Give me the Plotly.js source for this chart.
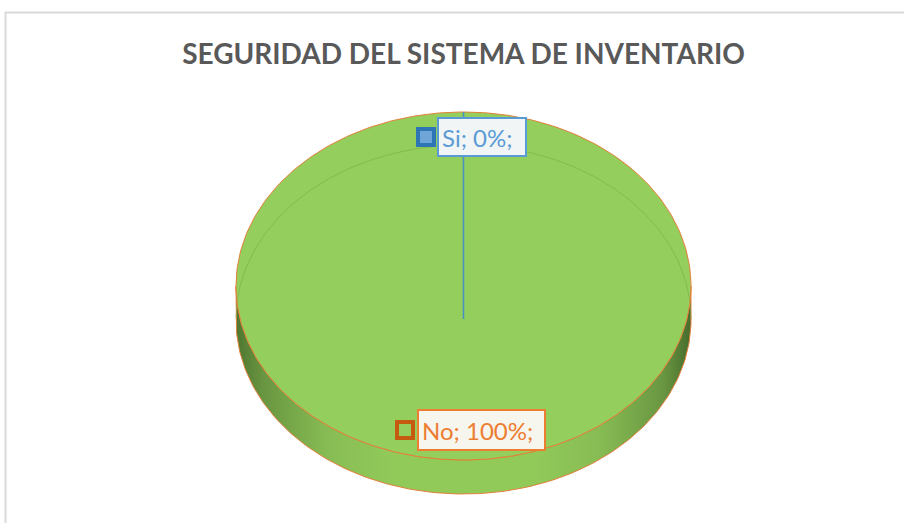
<!DOCTYPE html>
<html>
<head>
<meta charset="utf-8">
<script src="https://cdn.plot.ly/plotly-3.0.1.min.js"></script>
<style>
html,body{margin:0;padding:0;background:#fff;}
#chart{width:904px;height:523px;}
</style>
</head>
<body>
<div id="chart"></div>
<script>
// ---- data ----
const categories = ['Si', 'No'];
const values = [0, 100];
const chartTitle = 'SEGURIDAD DEL SISTEMA DE INVENTARIO';

// ---- styles ----
const faceColors = ['#4f8fcc', 'rgb(148,206,92)'];
const borderColors = ['#4a8fc6', 'rgb(226,128,58)'];
const labelTextColors = ['#5b9bd5', '#ed7d31'];
const labelBg = ['#f1f5f6', '#f6f5ee'];
const keyFill = ['#6fa6da', 'rgb(148,206,92)'];
const keyBorder = ['#2e75b6', '#c55a11'];

// ---- geometry (pixel space) ----
const cx = 463.5, cy = 286, rx = 227.5, ry = 174, depth = 34, bevel = 33;
const apex = [cx, cy + bevel];

function rim(thDeg, dy) {
  const t = thDeg * Math.PI / 180;
  return [cx + rx * Math.sin(t), cy - ry * Math.cos(t) + (dy || 0)];
}

const total = values.reduce((a, b) => a + b, 0);
const slices = [];
let cum = 0;
values.forEach((v, i) => {
  const s = cum / total * 360, e = (cum + v) / total * 360;
  cum += v;
  slices.push({ i, s, e });
});

const traces = [];

// side walls
slices.forEach(sl => {
  const a = Math.max(sl.s, 90), b = Math.min(sl.e, 270);
  if (a >= b) return;
  const xs = [], ys = [];
  for (let t = a; t <= b + 1e-9; t += 1) { const p = rim(t); xs.push(p[0]); ys.push(p[1]); }
  for (let t = b; t >= a - 1e-9; t -= 1) { const p = rim(t, depth); xs.push(p[0]); ys.push(p[1]); }
  xs.push(xs[0]); ys.push(ys[0]);
  traces.push({
    type: 'scatter', mode: 'lines', x: xs, y: ys, fill: 'toself',
    fillgradient: {
      type: 'horizontal', start: cx - rx, stop: cx + rx,
      colorscale: [[0, 'rgb(78,118,48)'], [0.06, 'rgb(105,150,65)'], [0.2, 'rgb(135,188,84)'],
                   [0.35, 'rgb(146,202,90)'], [0.65, 'rgb(146,202,90)'], [0.8, 'rgb(135,188,84)'],
                   [0.94, 'rgb(105,150,65)'], [1, 'rgb(70,108,44)']]
    },
    line: { color: borderColors[sl.i], width: 1 },
    hoverinfo: 'skip', showlegend: false
  });
});

function slicePoly(sl) {
  const xs = [apex[0]], ys = [apex[1]];
  if (sl.e - sl.s <= 0) {
    const p = rim(sl.s); xs.push(p[0]); ys.push(p[1]);
  } else {
    for (let t = sl.s; t <= sl.e + 1e-9; t += 1) { const p = rim(t); xs.push(p[0]); ys.push(p[1]); }
  }
  xs.push(apex[0]); ys.push(apex[1]);
  return { xs, ys };
}

// top faces
slices.forEach(sl => {
  if (sl.e - sl.s <= 0) return;
  const p = slicePoly(sl);
  traces.push({
    type: 'scatter', mode: 'lines', x: p.xs, y: p.ys, fill: 'toself',
    fillcolor: faceColors[sl.i], line: { width: 0, color: 'rgba(0,0,0,0)' },
    hoverinfo: 'skip', showlegend: false
  });
});

// bevel highlight line
(function () {
  const xs = [], ys = [];
  for (let t = -90; t <= 90; t += 1) { const p = rim(t, bevel); xs.push(p[0]); ys.push(p[1]); }
  traces.push({ type: 'scatter', mode: 'lines', x: xs, y: ys,
    line: { color: 'rgba(120,170,70,0.55)', width: 1 }, hoverinfo: 'skip', showlegend: false });
})();

// top rim outlines (outer edge only)
slices.slice().reverse().forEach(sl => {
  if (sl.e - sl.s <= 0) return;
  const xs = [], ys = [];
  for (let t = sl.s; t <= sl.e + 1e-9; t += 1) { const p = rim(t); xs.push(p[0]); ys.push(p[1]); }
  traces.push({ type: 'scatter', mode: 'lines', x: xs, y: ys,
    line: { color: borderColors[sl.i], width: 1 }, hoverinfo: 'skip', showlegend: false });
});

// radial outlines (zero-size slice becomes a line)
slices.slice().reverse().forEach(sl => {
  if (sl.e - sl.s > 0 && sl.e - sl.s < 360) {
    const p = slicePoly(sl);
    traces.push({ type: 'scatter', mode: 'lines', x: p.xs, y: p.ys,
      line: { color: borderColors[sl.i], width: 1 }, hoverinfo: 'skip', showlegend: false });
  } else if (sl.e - sl.s <= 0) {
    const p = slicePoly(sl);
    traces.push({ type: 'scatter', mode: 'lines', x: p.xs, y: p.ys,
      line: { color: borderColors[sl.i], width: 1.5 }, hoverinfo: 'skip', showlegend: false });
  }
});

// label placement
const labelPos = [
  { x: 481.5, y: 137, w: 80, h: 30, kx: 426, ky: 137 },
  { x: 481.5, y: 430, w: 119, h: 32, kx: 405, ky: 430 }
];

const annotations = categories.map((c, i) => ({
  x: labelPos[i].x, y: labelPos[i].y, xref: 'x', yref: 'y',
  text: c + '; ' + values[i] + '%;',
  showarrow: false, align: 'left', width: labelPos[i].w, height: labelPos[i].h,
  font: { family: 'Lato, "Open Sans", sans-serif', size: 24, color: labelTextColors[i] },
  bgcolor: labelBg[i], bordercolor: labelTextColors[i], borderwidth: 2, borderpad: 3
}));

// legend keys
categories.forEach((c, i) => {
  traces.push({
    type: 'scatter', mode: 'markers', x: [labelPos[i].kx], y: [labelPos[i].ky],
    marker: { symbol: 'square', size: 16, color: keyFill[i], line: { color: keyBorder[i], width: 4 } },
    hoverinfo: 'skip', showlegend: false
  });
});

const layout = {
  width: 904, height: 523,
  margin: { l: 0, r: 0, t: 0, b: 0, pad: 0 },
  paper_bgcolor: '#ffffff', plot_bgcolor: '#ffffff',
  xaxis: { range: [0, 904], visible: false, fixedrange: true },
  yaxis: { range: [523, 0], visible: false, fixedrange: true },
  showlegend: false,
  title: {
    text: chartTitle, x: 463.5 / 904, xanchor: 'center', xref: 'paper',
    y: 1 - 54 / 523, yanchor: 'middle', yref: 'paper',
    font: { family: 'Lato, "Open Sans", sans-serif', size: 28, color: '#595959', weight: 'bold' }
  },
  shapes: [{
    type: 'rect', xref: 'x', yref: 'y', x0: 5.5, y0: 12.5, x1: 930, y1: 560,
    line: { color: '#d9d9d9', width: 2 }, fillcolor: 'rgba(0,0,0,0)', layer: 'below'
  }],
  annotations: annotations
};

Plotly.newPlot('chart', traces, layout, { staticPlot: true, displayModeBar: false });
</script>
</body>
</html>
